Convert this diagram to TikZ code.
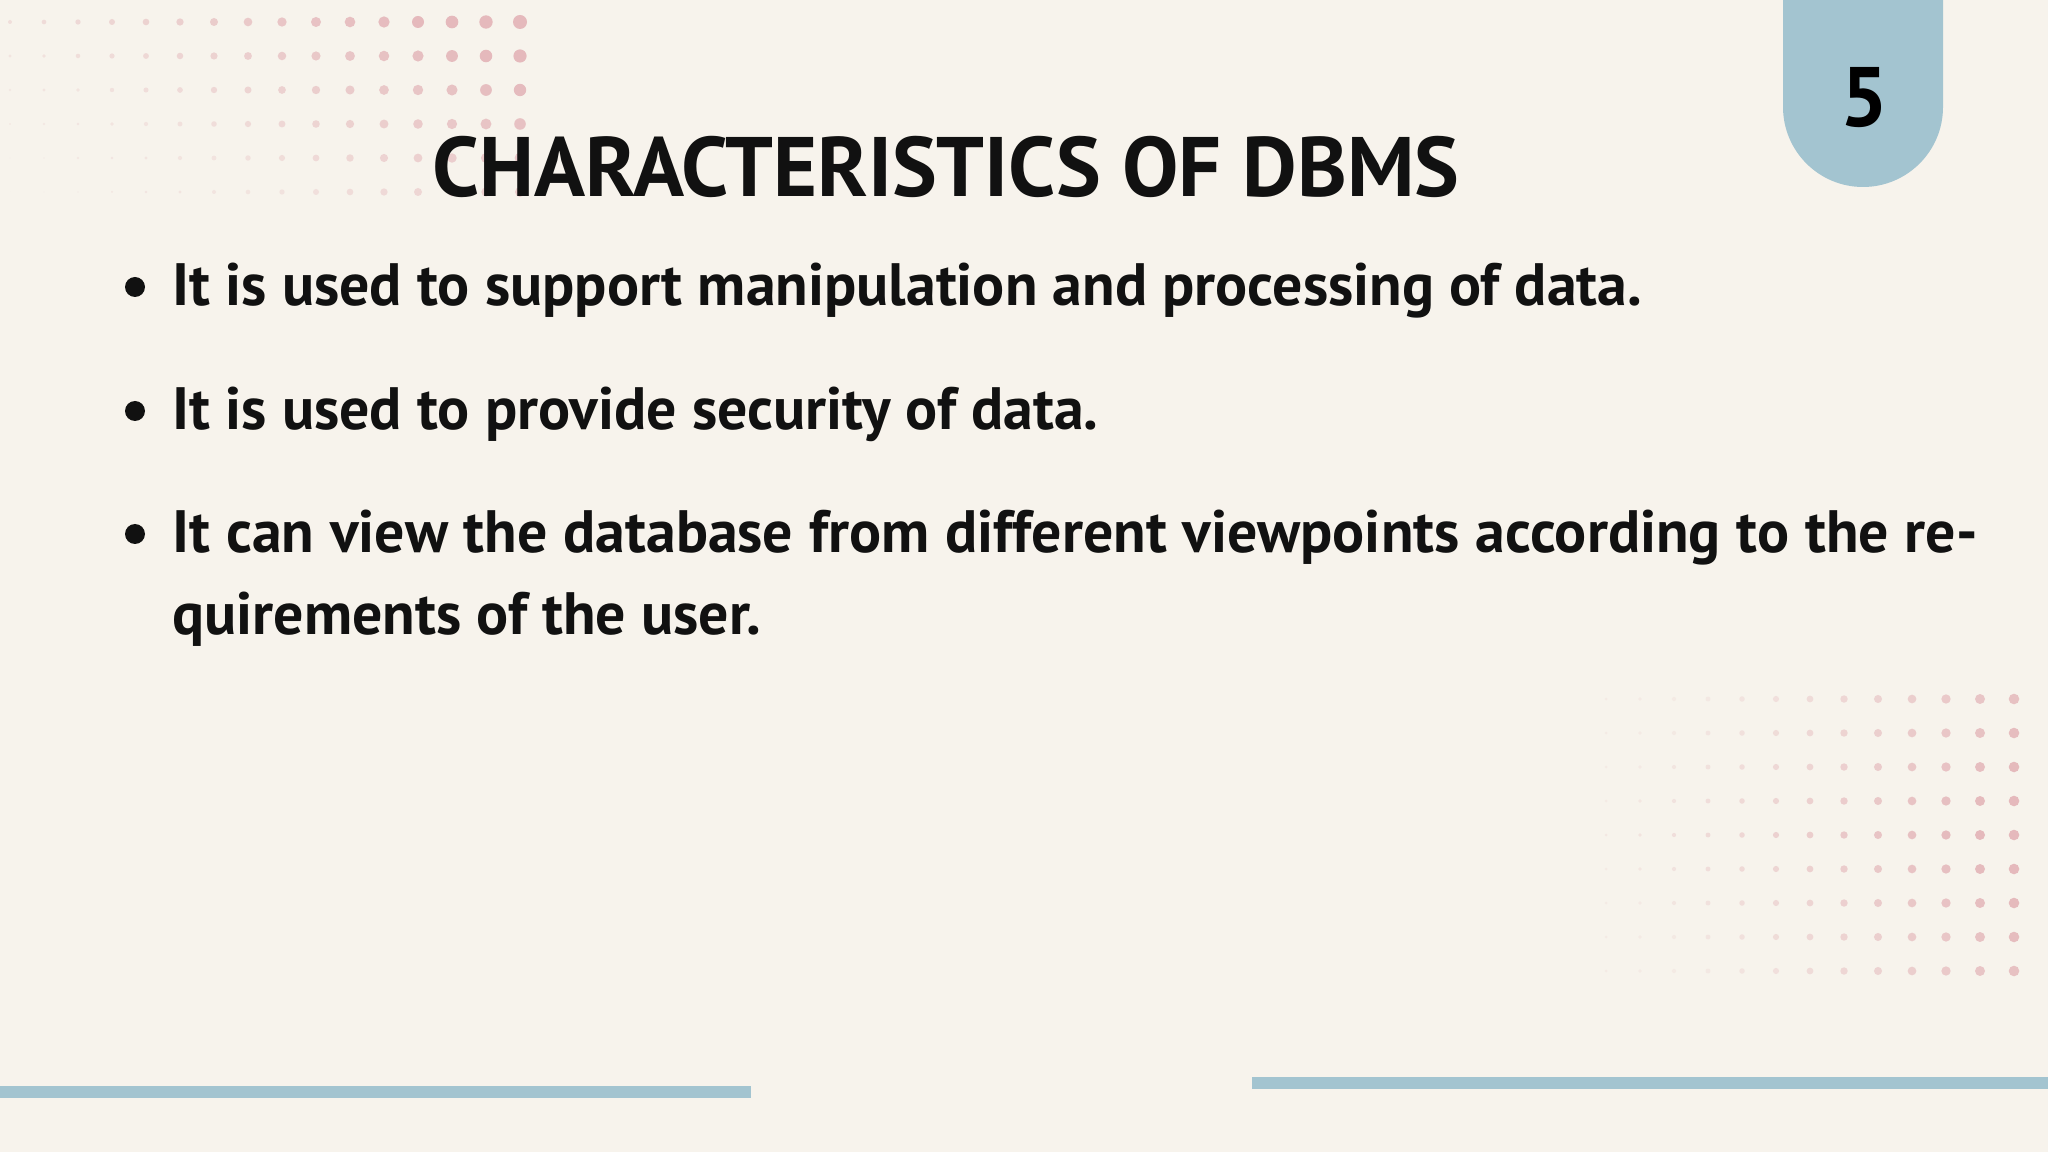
\documentclass[tikz,border=0pt]{standalone}
\usepackage{fontspec}
\setmainfont{PT Sans}
\definecolor{bg}{HTML}{F7F3EC}
\definecolor{tab}{HTML}{A3C4D0}
\definecolor{dot}{HTML}{E5B9BC}
\definecolor{ink}{HTML}{111111}
\tikzset{bul/.style={anchor=north west,inner sep=0pt,text=ink,font=\bfseries\fontsize{17pt}{23.3pt}\selectfont,text width=18.04cm,align=justify},
 dotc/.style={fill=dot}}
\begin{document}
\begin{tikzpicture}[x=0.01cm,y=-0.01cm]
\useasboundingbox (0,0) rectangle (2048,1152);
\fill[bg] (0,0) rectangle (2048,1152);
% top-left dots
\foreach \i in {0,...,15}{\foreach \j in {0,...,5}{
 \pgfmathsetmacro\op{max(0.25,min(1,(\i/15)*0.8-\j*0.1+0.35))}
 \pgfmathsetmacro\r{2+5*\i/15-\j*0.4}
 \fill[dotc,opacity=\op] (10+34*\i,22+34*\j) circle (\r);}}
% bottom-right dots
\foreach \i in {0,...,12}{\foreach \j in {0,...,8}{
 \pgfmathsetmacro\op{max(0.15,min(1,(\i/12)*0.9-abs(\j-4)*0.06+0.2))}
 \pgfmathsetmacro\r{1.5+3.8*\i/12}
 \fill[dotc,opacity=\op] (1606+34*\i,699+34*\j) circle (\r);}}
% tab
\fill[tab] (1783,0) -- (1783,107) arc[start angle=180,end angle=0,radius=80] -- (1943,0) -- cycle;
\node (num) at (1864,98) {\bfseries\fontsize{24pt}{24pt}\selectfont 5};
\node[text=ink] (title) at (946,167) {\bfseries\fontsize{24pt}{28pt}\selectfont CHARACTERISTICS OF DBMS};
\foreach \y in {287,411,534}{\fill[ink] (135,\y) circle (10);}
\node[bul] (t1) at (172,262) {\raggedright It is used to support manipulation and processing of data.};
\node[bul] (t2) at (172,386) {\raggedright It is used to provide security of data.};
\node[bul] (t3) at (172,509) {\hyphenpenalty=10000 It can view the database from different viewpoints according to the requirements of the user.};
\fill[tab] (0,1086) rectangle (751,1098);
\fill[tab] (1252,1077) rectangle (2048,1089);
\end{tikzpicture}
\end{document}
